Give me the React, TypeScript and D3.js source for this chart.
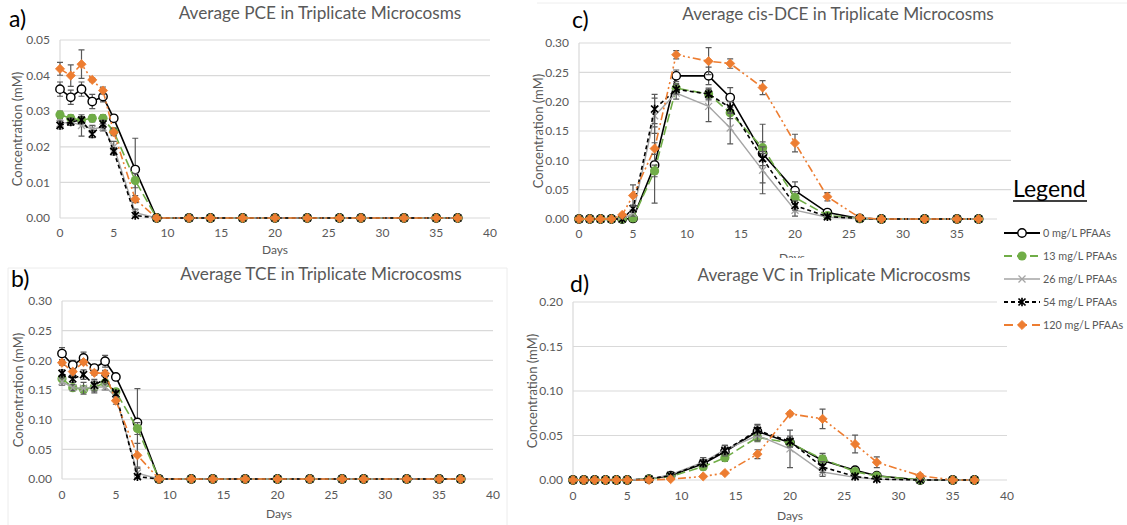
import React from 'react';
import * as d3 from 'd3';

// ---------- DATA ----------
const days = [0, 1, 2, 3, 4, 5, 7, 9, 12, 14, 17, 20, 23, 26, 28, 32, 35, 37];
const seriesNames = ['0 mg/L PFAAs', '13 mg/L PFAAs', '26 mg/L PFAAs', '54 mg/L PFAAs', '120 mg/L PFAAs'];

// PCE (mM)
const pce0 = [0.0362, 0.0339, 0.0362, 0.0327, 0.0341, 0.028, 0.0136, 0, 0, 0, 0, 0, 0, 0, 0, 0, 0, 0];
const pce0Err = [0.002, 0.002, 0.002, 0.002, 0.0015, 0.001, 0.0088, 0, 0, 0, 0, 0, 0, 0, 0, 0, 0, 0];
const pce13 = [0.029, 0.028, 0.0275, 0.028, 0.028, 0.0243, 0.0105, 0, 0, 0, 0, 0, 0, 0, 0, 0, 0, 0];
const pce13Err = [0.001, 0.001, 0.001, 0.001, 0.001, 0.001, 0.002, 0, 0, 0, 0, 0, 0, 0, 0, 0, 0, 0];
const pce26 = [0.0265, 0.027, 0.026, 0.025, 0.0255, 0.02, 0.0015, 0, 0, 0, 0, 0, 0, 0, 0, 0, 0, 0];
const pce26Err = [0.001, 0.001, 0.003, 0.001, 0.001, 0.0015, 0.001, 0, 0, 0, 0, 0, 0, 0, 0, 0, 0, 0];
const pce54 = [0.026, 0.027, 0.0275, 0.0236, 0.0264, 0.0187, 0.0007, 0, 0, 0, 0, 0, 0, 0, 0, 0, 0, 0];
const pce54Err = [0.001, 0.001, 0.001, 0.001, 0.001, 0.001, 0.0005, 0, 0, 0, 0, 0, 0, 0, 0, 0, 0, 0];
const pce120 = [0.0419, 0.04, 0.0432, 0.0388, 0.0358, 0.0241, 0.0053, 0, 0, 0, 0, 0, 0, 0, 0, 0, 0, 0];
const pce120Err = [0.0018, 0.003, 0.004, 0.0005, 0.001, 0.001, 0.001, 0, 0, 0, 0, 0, 0, 0, 0, 0, 0, 0];

// TCE (mM)
const tce0 = [0.2114, 0.192, 0.204, 0.187, 0.1985, 0.172, 0.0953, 0, 0, 0, 0, 0, 0, 0, 0, 0, 0, 0];
const tce0Err = [0.01, 0.008, 0.01, 0.004, 0.01, 0.004, 0.057, 0, 0, 0, 0, 0, 0, 0, 0, 0, 0, 0];
const tce13 = [0.169, 0.154, 0.151, 0.155, 0.162, 0.147, 0.085, 0, 0, 0, 0, 0, 0, 0, 0, 0, 0, 0];
const tce13Err = [0.005, 0.004, 0.005, 0.005, 0.005, 0.005, 0.01, 0, 0, 0, 0, 0, 0, 0, 0, 0, 0, 0];
const tce26 = [0.164, 0.154, 0.153, 0.155, 0.155, 0.139, 0.01, 0, 0, 0, 0, 0, 0, 0, 0, 0, 0, 0];
const tce26Err = [0.006, 0.005, 0.01, 0.01, 0.005, 0.008, 0.008, 0, 0, 0, 0, 0, 0, 0, 0, 0, 0, 0];
const tce54 = [0.178, 0.169, 0.176, 0.158, 0.169, 0.144, 0.004, 0, 0, 0, 0, 0, 0, 0, 0, 0, 0, 0];
const tce54Err = [0.006, 0.006, 0.008, 0.01, 0.006, 0.005, 0.003, 0, 0, 0, 0, 0, 0, 0, 0, 0, 0, 0];
const tce120 = [0.196, 0.181, 0.197, 0.179, 0.178, 0.132, 0.04, 0, 0, 0, 0, 0, 0, 0, 0, 0, 0, 0];
const tce120Err = [0.004, 0.004, 0.004, 0.004, 0.005, 0.006, 0.02, 0, 0, 0, 0, 0, 0, 0, 0, 0, 0, 0];

// cis-DCE (mM)
const dce0 = [0, 0, 0, 0, 0, 0.001, 0.092, 0.244, 0.244, 0.207, 0.1115, 0.0484, 0.011, 0.001, 0, 0, 0, 0];
const dce0Err = [0, 0, 0, 0, 0, 0, 0.065, 0.01, 0.015, 0.017, 0.05, 0.015, 0.003, 0, 0, 0, 0, 0];
const dce13 = [0, 0, 0, 0, 0, 0.0017, 0.082, 0.223, 0.213, 0.181, 0.1216, 0.0366, 0.006, 0.001, 0, 0, 0, 0];
const dce13Err = [0, 0, 0, 0, 0, 0.001, 0.01, 0.008, 0.01, 0.01, 0.01, 0.01, 0.002, 0, 0, 0, 0, 0];
const dce26 = [0, 0, 0, 0, 0, 0.01, 0.176, 0.2145, 0.192, 0.155, 0.083, 0.015, 0.003, 0.001, 0, 0, 0, 0];
const dce26Err = [0, 0, 0, 0, 0, 0.005, 0.03, 0.01, 0.026, 0.027, 0.04, 0.01, 0.002, 0, 0, 0, 0, 0];
const dce54 = [0, 0, 0, 0, 0, 0.0175, 0.1875, 0.221, 0.213, 0.19, 0.103, 0.023, 0.004, 0.001, 0, 0, 0, 0];
const dce54Err = [0, 0, 0, 0, 0, 0.006, 0.025, 0.008, 0.008, 0.01, 0.012, 0.008, 0.002, 0, 0, 0, 0, 0];
const dce120 = [0, 0, 0, 0, 0.007, 0.04, 0.12, 0.28, 0.269, 0.265, 0.224, 0.1295, 0.038, 0.002, 0, 0, 0, 0];
const dce120Err = [0, 0, 0, 0, 0.002, 0.018, 0.01, 0.007, 0.023, 0.008, 0.012, 0.015, 0.007, 0.002, 0, 0, 0, 0];

// VC (mM)
const vc0 = [0, 0, 0, 0, 0, 0, 0.001, 0.005, 0.0183, 0.0317, 0.0546, 0.042, 0.022, 0.011, 0.0048, 0, 0, 0];
const vc0Err = [0, 0, 0, 0, 0, 0, 0.001, 0.002, 0.007, 0.007, 0.008, 0.005, 0.008, 0.002, 0.001, 0, 0, 0];
const vc13 = [0, 0, 0, 0, 0, 0, 0.001, 0.004, 0.015, 0.025, 0.048, 0.0416, 0.0236, 0.0093, 0.0045, 0, 0, 0];
const vc13Err = [0, 0, 0, 0, 0, 0, 0.001, 0.001, 0.003, 0.004, 0.005, 0.004, 0.004, 0.002, 0.001, 0, 0, 0];
const vc26 = [0, 0, 0, 0, 0, 0, 0.001, 0.006, 0.02, 0.034, 0.05, 0.035, 0.009, 0.003, 0.001, 0, 0, 0];
const vc26Err = [0, 0, 0, 0, 0, 0, 0.001, 0.002, 0.005, 0.005, 0.006, 0.021, 0.005, 0.001, 0.001, 0, 0, 0];
const vc54 = [0, 0, 0, 0, 0, 0, 0.001, 0.005, 0.019, 0.033, 0.0557, 0.0433, 0.0146, 0.004, 0.001, 0, 0, 0];
const vc54Err = [0, 0, 0, 0, 0, 0, 0.001, 0.001, 0.004, 0.006, 0.006, 0.006, 0.006, 0.001, 0.001, 0, 0, 0];
const vc120 = [0, 0, 0, 0, 0, 0, 0, 0.001, 0.004, 0.0078, 0.029, 0.0744, 0.0687, 0.0404, 0.0199, 0.0048, 0, 0];
const vc120Err = [0, 0, 0, 0, 0, 0, 0, 0, 0.001, 0.001, 0.005, 0.002, 0.011, 0.01, 0.006, 0.002, 0, 0];

const xTicks = [0, 5, 10, 15, 20, 25, 30, 35, 40];
const pceTicks = [0, 0.01, 0.02, 0.03, 0.04, 0.05];
const tceTicks = [0, 0.05, 0.1, 0.15, 0.2, 0.25, 0.3];
const dceTicks = [0, 0.05, 0.1, 0.15, 0.2, 0.25, 0.3];
const vcTicks = [0, 0.05, 0.1, 0.15, 0.2];

// ---------- STYLE ----------
const FONT = "Lato, 'Open Sans', 'Liberation Sans', sans-serif";
const GRID = '#d9d9d9';
const TXT = '#595959';
const ERR = '#595959';
const seriesStyles = [
  { color: '#000000', dash: '', marker: 'openCircle', width: 1.6 },
  { color: '#70AD47', dash: '9,4', marker: 'dot', width: 1.6 },
  { color: '#A5A5A5', dash: '', marker: 'x', width: 1.4 },
  { color: '#000000', dash: '4,3', marker: 'star', width: 1.6 },
  { color: '#ED7D31', dash: '8,3,2,3,2,3', marker: 'diamond', width: 1.6 },
];

function Marker({ type, x, y, color }: { type: string; x: number; y: number; color: string }) {
  if (type === 'openCircle') return <circle cx={x} cy={y} r={4.2} fill="white" stroke={color} strokeWidth={1.4} />;
  if (type === 'dot') return <circle cx={x} cy={y} r={4.6} fill={color} />;
  if (type === 'x') {
    const s = 3.5;
    return <path d={`M${x - s},${y - s}L${x + s},${y + s}M${x - s},${y + s}L${x + s},${y - s}`} stroke={color} strokeWidth={1.3} fill="none" />;
  }
  if (type === 'star') {
    const s = 3.5;
    return (
      <path
        d={`M${x - s},${y - s}L${x + s},${y + s}M${x - s},${y + s}L${x + s},${y - s}M${x},${y - s - 0.8}L${x},${y + s + 0.8}`}
        stroke={color}
        strokeWidth={1.7}
        fill="none"
      />
    );
  }
  const s = 4.6;
  return <path d={`M${x},${y - s}L${x + s},${y}L${x},${y + s}L${x - s},${y}Z`} fill={color} stroke={color} strokeWidth={0.8} strokeLinejoin="round" />;
}

type Frame = { l: number; r: number; t: number; b: number };
type PanelProps = {
  frame: Frame;
  yTicks: number[];
  xTickLabels: number[];
  values: number[][];
  errors: number[][];
  title: string;
  titleX: number;
  titleY: number;
  label: string;
  labelX: number;
  labelY: number;
  yTitleX: number;
  daysX: number;
  daysY: number;
  xLabelY: number;
  yLabelRight: number;
  beforeData?: React.ReactNode;
};

function Panel(p: PanelProps) {
  const { frame } = p;
  const x = d3.scaleLinear().domain([0, 40]).range([frame.l, frame.r]);
  const yMax = p.yTicks[p.yTicks.length - 1];
  const y = d3.scaleLinear().domain([0, yMax]).range([frame.b, frame.t]);
  const line = d3
    .line<number>()
    .x((_, i) => x(days[i]))
    .y((v) => y(v));
  const fmt = d3.format('.2f');
  return (
    <g>
      {p.yTicks.map((t) => (
        <line key={'g' + t} x1={frame.l} x2={frame.r} y1={y(t)} y2={y(t)} stroke={GRID} strokeWidth={1.2} />
      ))}
      <line x1={frame.l} x2={frame.l} y1={frame.t} y2={frame.b} stroke={GRID} strokeWidth={1.2} />
      {p.yTicks.map((t) => (
        <text key={'yt' + t} x={p.yLabelRight} y={y(t)} dy="0.35em" textAnchor="end" fontSize={12} fill={TXT} fontFamily={FONT}>
          {fmt(t)}
        </text>
      ))}
      {p.xTickLabels.map((t) => (
        <text key={'xt' + t} x={x(t)} y={p.xLabelY} textAnchor="middle" fontSize={12} fill={TXT} fontFamily={FONT}>
          {t}
        </text>
      ))}
      <text x={p.daysX} y={p.daysY} textAnchor="middle" fontSize={12} fill={TXT} fontFamily={FONT}>
        Days
      </text>
      {p.beforeData}
      <text
        transform={`translate(${p.yTitleX},${(frame.t + frame.b) / 2}) rotate(-90)`}
        textAnchor="middle"
        fontSize={13}
        fill={TXT}
        fontFamily={FONT}
        dy="0.35em"
      >
        Concentration (mM)
      </text>
      <text x={p.titleX} y={p.titleY} textAnchor="middle" fontSize={17.2} fill={TXT} fontFamily={FONT}>
        {p.title}
      </text>
      <text x={p.labelX} y={p.labelY} fontSize={23} fill="#000" fontFamily={FONT}>
        {p.label}
      </text>
      {p.values.map((vals, si) => {
        const st = seriesStyles[si];
        const errs = p.errors[si];
        return (
          <g key={'s' + si}>
            <path d={line(vals) || ''} fill="none" stroke={st.color} strokeWidth={st.width} strokeDasharray={st.dash} />
            {vals.map((v, i) => {
              if (!(errs[i] > 0)) return null;
              const cx = x(days[i]);
              const hi = y(v + errs[i]);
              const lo = y(Math.max(0, v - errs[i]));
              return (
                <path
                  key={'e' + i}
                  d={`M${cx},${hi}L${cx},${lo}M${cx - 3},${hi}L${cx + 3},${hi}M${cx - 3},${lo}L${cx + 3},${lo}`}
                  stroke={ERR}
                  strokeWidth={1.2}
                  fill="none"
                />
              );
            })}
            {vals.map((v, i) => (
              <Marker key={'m' + i} type={st.marker} x={x(days[i])} y={y(v)} color={st.color} />
            ))}
          </g>
        );
      })}
    </g>
  );
}

function Legend() {
  const x0 = 1004;
  const rows = [233, 256, 279, 302, 325];
  return (
    <g>
      <rect x={997} y={206} width={130} height={132} fill="white" />
      <text x={1013} y={197} fontSize={23} fill="#000" fontFamily={FONT}>
        Legend
      </text>
      <line x1={1013} x2={1087} y1={201} y2={201} stroke="#000" strokeWidth={1.3} />
      {seriesNames.map((n, i) => {
        const st = seriesStyles[i];
        const yy = rows[i];
        const legendDash = st.dash === '8,3,2,3,2,3' ? '9,5' : st.dash === '9,4' ? '8,5' : st.dash;
        return (
          <g key={n}>
            <line x1={x0} x2={x0 + 36} y1={yy} y2={yy} stroke={st.color} strokeWidth={st.width + 0.2} strokeDasharray={legendDash} />
            <Marker type={st.marker} x={x0 + 18} y={yy} color={st.color} />
            <text x={x0 + 39} y={yy} dy="0.35em" fontSize={10.8} fill={TXT} fontFamily={FONT}>
              {n}
            </text>
          </g>
        );
      })}
    </g>
  );
}

export default function App() {
  return (
    <svg width={1127} height={525} style={{ position: 'fixed', left: 0, top: 0, background: 'white' }}>
      <rect x={0} y={0} width={1127} height={525} fill="white" />
      {/* faint chart borders */}
      <line x1={537} x2={1127} y1={3} y2={3} stroke="#eeeeee" />
      <Panel
        frame={{ l: 60, r: 490, t: 40, b: 218 }}
        yTicks={pceTicks}
        xTickLabels={xTicks}
        values={[pce0, pce13, pce26, pce54, pce120]}
        errors={[pce0Err, pce13Err, pce26Err, pce54Err, pce120Err]}
        title="Average PCE in Triplicate Microcosms"
        titleX={320}
        titleY={19}
        label="a)"
        labelX={9}
        labelY={27}
        yTitleX={17}
        daysX={275}
        daysY={254}
        xLabelY={237}
        yLabelRight={50}
      />
      <Panel
        frame={{ l: 579, r: 1011, t: 43, b: 219 }}
        yTicks={dceTicks}
        xTickLabels={xTicks.slice(0, 8)}
        values={[dce0, dce13, dce26, dce54, dce120]}
        errors={[dce0Err, dce13Err, dce26Err, dce54Err, dce120Err]}
        title="Average cis-DCE in Triplicate Microcosms"
        titleX={838}
        titleY={20}
        label="c)"
        labelX={572}
        labelY={28}
        yTitleX={538}
        daysX={792}
        daysY={262}
        xLabelY={238}
        yLabelRight={569}
        beforeData={<rect x={530} y={258} width={470} height={10} fill="white" />}
      />
      <path d="M8,525L8,268L507,268L507,525" fill="none" stroke="#ececec" />
      <Panel
        frame={{ l: 62, r: 493, t: 301, b: 479 }}
        yTicks={tceTicks}
        xTickLabels={xTicks}
        values={[tce0, tce13, tce26, tce54, tce120]}
        errors={[tce0Err, tce13Err, tce26Err, tce54Err, tce120Err]}
        title="Average TCE in Triplicate Microcosms"
        titleX={321}
        titleY={280}
        label="b)"
        labelX={11}
        labelY={287}
        yTitleX={18}
        daysX={279}
        daysY={518}
        xLabelY={499}
        yLabelRight={52}
      />
      <Panel
        frame={{ l: 573, r: 1007, t: 302, b: 480 }}
        yTicks={vcTicks}
        xTickLabels={xTicks}
        values={[vc0, vc13, vc26, vc54, vc120]}
        errors={[vc0Err, vc13Err, vc26Err, vc54Err, vc120Err]}
        title="Average VC in Triplicate Microcosms"
        titleX={834}
        titleY={281}
        label="d)"
        labelX={570}
        labelY={292}
        yTitleX={532}
        daysX={790}
        daysY={520}
        xLabelY={500}
        yLabelRight={563}
      />
      <Legend />
    </svg>
  );
}
